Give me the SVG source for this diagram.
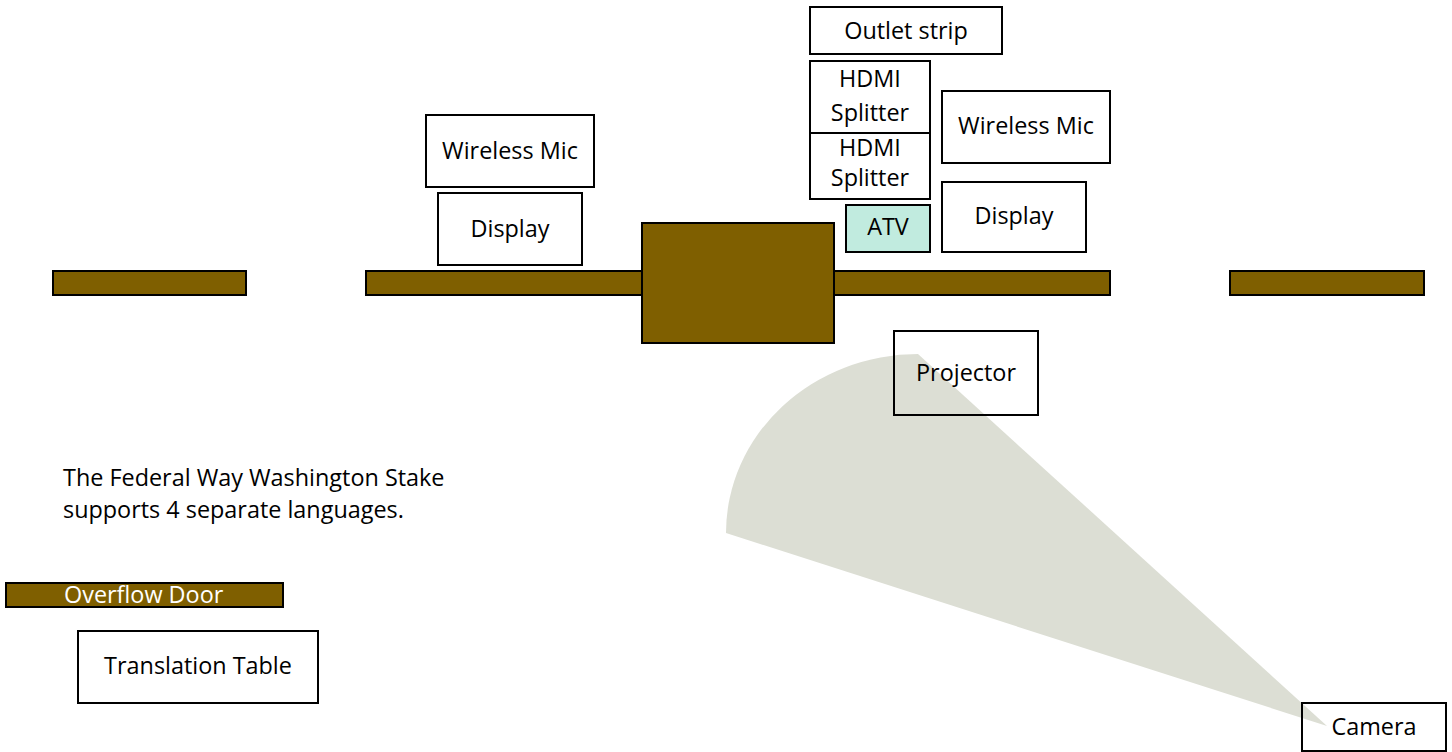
<svg xmlns="http://www.w3.org/2000/svg" width="1452" height="752" viewBox="0 0 1452 752">
<style>
.box{fill:#ffffff;stroke:#000000;stroke-width:2}
.open{fill:none;stroke:#000000;stroke-width:2}
.wall{fill:#7f5f00;stroke:#000000;stroke-width:2}
.atv{fill:#c1ebdf;stroke:#000000;stroke-width:2}
.t{font-family:"Open Sans","Noto Sans",sans-serif;font-size:23.4px;fill:#000000;text-anchor:middle}
.tl{font-family:"Open Sans","Noto Sans",sans-serif;font-size:23.4px;fill:#000000}
.tw{font-family:"Open Sans","Noto Sans",sans-serif;font-size:23.4px;fill:#ffffff}
</style>
<rect width="1452" height="752" fill="#ffffff"/>
<g id="camera-view">
<path d="M1327,726 L918,354 A192,179 0 0 0 726,533 Z" fill="#dcded4"/>
</g>
<g id="walls">
<rect class="wall" x="53" y="271" width="193" height="24"/>
<rect class="wall" x="366" y="271" width="276" height="24"/>
<rect class="wall" x="834" y="271" width="276" height="24"/>
<rect class="wall" x="1230" y="271" width="194" height="24"/>
<rect class="wall" x="642" y="223" width="192" height="120"/>
</g>
<g id="outlet-strip"><rect class="box" x="810" y="7" width="192" height="47"/><text class="t" x="906" y="39">Outlet strip</text></g>
<g id="hdmi-splitter-1"><rect class="box" x="810" y="61" width="120" height="72"/><text class="t" x="870" y="87">HDMI</text><text class="t" x="870" y="121">Splitter</text></g>
<g id="hdmi-splitter-2"><rect class="box" x="810" y="133" width="120" height="66"/><text class="t" x="870" y="156">HDMI</text><text class="t" x="870" y="186">Splitter</text></g>
<g id="atv"><rect class="atv" x="846" y="205" width="84" height="47"/><text class="t" x="888" y="235">ATV</text></g>
<g id="wireless-mic-right"><rect class="box" x="942" y="91" width="168" height="72"/><text class="t" x="1026" y="134">Wireless Mic</text></g>
<g id="display-right"><rect class="box" x="942" y="182" width="144" height="70"/><text class="t" x="1014" y="224">Display</text></g>
<g id="wireless-mic-left"><rect class="box" x="426" y="115" width="168" height="72"/><text class="t" x="510" y="159">Wireless Mic</text></g>
<g id="display-left"><rect class="box" x="438" y="193" width="144" height="72"/><text class="t" x="510" y="237">Display</text></g>
<g id="projector"><rect class="open" x="894" y="331" width="144" height="84"/><text class="t" x="966" y="381">Projector</text></g>
<g id="camera"><rect class="open" x="1302" y="703" width="144" height="48"/><text class="t" x="1374" y="735">Camera</text></g>
<g id="note"><text class="tl" x="63" y="486">The Federal Way Washington Stake</text><text class="tl" x="63" y="518">supports 4 separate languages.</text></g>
<g id="overflow-door"><rect class="wall" x="6" y="583" width="277" height="24"/><text class="tw" x="64" y="603">Overflow Door</text></g>
<g id="translation-table"><rect class="box" x="78" y="631" width="240" height="72"/><text class="t" x="198" y="674">Translation Table</text></g>
<g id="connectors"/>
</svg>
